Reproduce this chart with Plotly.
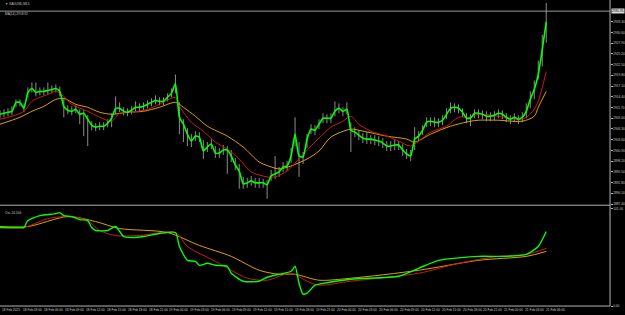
import plotly.graph_objects as go

# ---------------- data ----------------
CLOSE = [
    2910.00, 2910.25, 2910.50, 2910.75, 2913.00, 2913.00, 2911.50, 2915.50, 2916.50, 2915.50,
    2915.75, 2915.75, 2916.00, 2916.25, 2916.50, 2915.75, 2912.00, 2911.00, 2910.75, 2911.25,
    2910.00, 2910.25, 2908.75, 2907.25, 2906.75, 2907.00, 2907.00, 2907.75, 2909.00, 2911.50,
    2911.50, 2910.75, 2910.50, 2911.00, 2911.75, 2911.75, 2912.00, 2912.50, 2913.00, 2913.50,
    2913.25, 2913.25, 2914.25, 2915.25, 2917.75, 2909.25, 2907.50, 2905.00, 2903.25, 2904.50,
    2904.25, 2900.75, 2901.75, 2902.50, 2900.25, 2900.25, 2901.00, 2901.00, 2899.50, 2897.25,
    2895.75, 2892.50, 2892.75, 2893.25, 2892.75, 2892.75, 2892.75, 2892.25, 2894.50, 2895.00,
    2895.50, 2896.75, 2897.00, 2899.50, 2905.00, 2899.50, 2899.25, 2903.75, 2906.25, 2906.00,
    2907.50, 2909.00, 2909.00, 2909.00, 2910.75, 2911.50, 2910.75, 2911.25, 2906.00, 2905.50,
    2904.75, 2904.00, 2903.75, 2903.75, 2903.50, 2903.25, 2902.75, 2902.00, 2902.00, 2902.25,
    2902.25, 2901.00, 2900.00, 2899.50, 2903.75, 2904.50, 2906.00, 2908.00, 2908.25, 2908.00,
    2908.00, 2908.50, 2910.00, 2911.50, 2911.75, 2911.50, 2910.50, 2909.00, 2909.00, 2910.25,
    2910.25, 2910.00, 2909.50, 2909.50, 2909.75, 2910.25, 2910.00, 2909.25, 2908.75, 2909.25,
    2908.75, 2909.25, 2910.75, 2913.75, 2916.25, 2920.00, 2926.25, 2933.25,
]
HIGH = [
    2911.00, 2911.25, 2911.50, 2912.00, 2913.75, 2913.75, 2912.75, 2916.75, 2918.00, 2918.00,
    2916.75, 2916.75, 2918.00, 2917.25, 2917.50, 2917.00, 2914.00, 2912.25, 2912.00, 2912.25,
    2911.25, 2911.00, 2909.75, 2908.25, 2907.75, 2908.00, 2908.00, 2908.75, 2910.25, 2914.50,
    2913.00, 2911.75, 2911.50, 2912.00, 2913.25, 2912.75, 2913.00, 2913.50, 2914.00, 2914.75,
    2914.25, 2914.25, 2915.25, 2916.50, 2920.00, 2913.00, 2908.75, 2906.50, 2905.00, 2905.75,
    2905.50, 2903.50, 2903.00, 2903.75, 2902.00, 2901.50, 2902.25, 2902.00, 2901.00, 2899.00,
    2897.50, 2894.25, 2894.00, 2894.50, 2894.00, 2894.00, 2893.75, 2893.50, 2896.00, 2899.50,
    2896.75, 2898.00, 2898.25, 2901.50, 2909.25, 2903.00, 2900.50, 2905.00, 2907.50, 2907.25,
    2908.75, 2910.25, 2910.00, 2910.25, 2913.25, 2912.75, 2911.75, 2913.00, 2908.00, 2906.75,
    2906.00, 2905.25, 2905.50, 2904.75, 2904.75, 2904.50, 2904.00, 2903.25, 2903.25, 2903.50,
    2903.25, 2902.50, 2901.25, 2901.00, 2906.75, 2905.75, 2907.25, 2909.25, 2909.25, 2909.25,
    2909.00, 2909.75, 2911.50, 2913.00, 2912.75, 2912.50, 2911.50, 2910.25, 2910.00, 2911.25,
    2911.25, 2911.00, 2910.75, 2910.50, 2910.75, 2911.25, 2911.00, 2910.25, 2909.75, 2910.25,
    2909.75, 2910.50, 2912.75, 2915.75, 2918.50, 2923.50, 2930.00, 2938.00,
]
LOW = [
    2909.00, 2909.25, 2909.50, 2909.75, 2911.75, 2912.00, 2910.50, 2914.25, 2915.50, 2914.50,
    2914.75, 2914.75, 2915.00, 2915.25, 2915.50, 2914.50, 2909.25, 2910.00, 2909.75, 2910.25,
    2907.50, 2904.50, 2902.00, 2906.00, 2905.75, 2906.00, 2906.00, 2906.75, 2906.75, 2910.00,
    2910.50, 2909.75, 2909.50, 2910.00, 2910.75, 2910.75, 2911.00, 2911.50, 2912.00, 2912.50,
    2912.25, 2912.25, 2913.25, 2914.25, 2915.25, 2905.00, 2903.00, 2902.00, 2901.75, 2903.25,
    2903.00, 2898.75, 2900.50, 2901.25, 2899.00, 2899.00, 2899.75, 2895.00, 2898.00, 2896.00,
    2891.25, 2891.25, 2891.50, 2892.00, 2891.50, 2891.50, 2891.50, 2888.75, 2893.25, 2893.75,
    2894.25, 2895.50, 2895.75, 2897.75, 2902.00, 2894.25, 2897.50, 2901.50, 2905.00, 2904.75,
    2906.25, 2907.75, 2907.75, 2907.75, 2909.50, 2910.25, 2909.50, 2910.00, 2900.50, 2904.25,
    2903.50, 2902.75, 2902.50, 2902.50, 2902.25, 2902.00, 2901.50, 2900.75, 2900.75, 2901.00,
    2901.00, 2899.50, 2898.75, 2898.25, 2901.00, 2903.25, 2904.75, 2906.75, 2907.00, 2906.75,
    2906.75, 2907.25, 2908.75, 2910.25, 2910.50, 2910.25, 2909.25, 2907.75, 2907.00, 2909.00,
    2909.00, 2908.75, 2908.25, 2908.25, 2908.50, 2909.00, 2908.75, 2908.00, 2907.50, 2908.00,
    2907.50, 2908.00, 2909.00, 2911.50, 2913.75, 2918.75, 2922.00, 2928.00,
]

MA_RED_BARS = [0, 3, 6, 8, 12, 14, 16, 18, 22, 25, 28, 30, 33, 37, 40, 44, 45, 48, 51, 54,
               57, 60, 63, 67, 69, 72, 75, 78, 80, 83, 86, 88, 90, 93, 97, 100, 103, 105, 108,
               112, 115, 118, 120, 125, 130, 132, 134, 135, 136, 137]
MA_RED = [2908.75, 2909.50, 2910.75, 2913.25, 2915.00, 2915.75, 2914.50, 2912.50, 2910.75, 2909.25,
          2908.25, 2910.25, 2910.50, 2911.25, 2912.50, 2914.25, 2912.00, 2908.00, 2905.75, 2903.00,
          2901.25, 2898.75, 2895.50, 2894.25, 2894.25, 2895.75, 2898.75, 2902.00, 2904.00, 2906.75,
          2908.25, 2909.50, 2907.50, 2905.75, 2904.50, 2903.25, 2902.00, 2903.25, 2905.50,
          2907.00, 2909.25, 2909.25, 2910.00, 2909.50, 2908.75, 2909.25, 2911.25, 2913.25, 2916.75, 2920.75]

MA_ORANGE_BARS = [0, 5, 8, 11, 14, 16, 19, 22, 25, 28, 32, 36, 40, 44, 46, 49, 52, 57, 61, 65,
                  68, 70, 73, 77, 80, 83, 88, 91, 97, 102, 104, 108, 113, 118, 120, 125, 131,
                  134, 135, 137]
MA_ORANGE = [2907.50, 2909.25, 2910.75, 2912.00, 2913.75, 2914.00, 2912.50, 2911.75, 2910.50, 2910.00,
             2910.50, 2910.75, 2911.75, 2913.00, 2911.75, 2909.50, 2907.00, 2904.50, 2901.75, 2898.00,
             2896.75, 2896.25, 2897.00, 2898.75, 2900.75, 2904.25, 2906.25, 2905.75, 2904.50, 2903.75,
             2903.00, 2905.00, 2907.00, 2908.25, 2908.50, 2908.50, 2908.25, 2909.50, 2911.75, 2915.75]

OSC_GREEN_BARS = [0, 5, 6, 7, 10, 14, 15, 16, 18, 20, 22, 23, 24, 27, 29, 31, 33, 36, 40, 44,
                  45, 47, 49, 50, 52, 54, 57, 58, 61, 65, 67, 70, 73, 74, 75, 76, 77, 79, 80,
                  88, 100, 105, 110, 120, 127, 132, 135, 137]
OSC_GREEN = [79, 79, 79, 86, 91, 93, 94, 91, 90, 87, 86, 79, 76, 76, 80, 70, 69, 70, 73, 74,
             60, 46, 45, 41, 43, 41, 40, 33, 25, 25, 29, 32, 35, 40, 23, 12, 13, 21, 22,
             27, 30, 38, 46, 50, 50, 52, 60, 75]

OSC_RED_BARS = [0, 6, 12, 18, 22, 25, 29, 35, 44, 47, 54, 58, 62, 67, 73, 77, 80, 88, 105, 115,
                125, 132, 137]
OSC_RED = [79, 79, 88, 90, 86, 76, 71, 71, 74, 60, 45, 36, 28, 26, 33, 25, 21, 25, 33, 43,
           50, 52, 58]

OSC_ORANGE_BARS = [0, 7, 17, 24, 30, 42, 50, 58, 65, 70, 74, 80, 88, 105, 120, 132, 137]
OSC_ORANGE = [80, 80, 90, 85, 78, 74, 61, 50, 36, 32, 32, 26, 28, 36, 46, 50, 55]

PRICE_TICKS = [2933.30, 2930.60, 2927.90, 2925.20, 2922.50, 2919.80, 2917.10, 2914.40, 2911.70,
               2909.00, 2906.30, 2903.60, 2900.90, 2898.20, 2895.50, 2892.80, 2890.10, 2887.40]
BID = 2935.95
OSC_TICKS = [98, 0]
OSC_TICK_TEXT = ["101.00", "0.00"]

TIME_LABELS = ["18 Feb 2025", "18 Feb 03:00", "18 Feb 06:00", "18 Feb 09:00", "18 Feb 12:00",
               "18 Feb 15:00", "18 Feb 18:00", "18 Feb 21:00", "19 Feb 00:00", "19 Feb 03:00",
               "19 Feb 06:00", "19 Feb 09:00", "19 Feb 12:00", "19 Feb 15:00", "19 Feb 18:00",
               "19 Feb 21:00", "20 Feb 00:00", "20 Feb 03:00", "20 Feb 06:00", "20 Feb 09:00",
               "20 Feb 12:00", "20 Feb 15:00", "20 Feb 18:00", "20 Feb 21:00", "21 Feb 00:00",
               "21 Feb 03:00", "21 Feb 06:00"]
LABEL_EVERY_BARS = 5.25

TITLE = "\u25bc XAUUSD,M15"
MA_TEXT = "MA(14) 2918.92"
OSC_TEXT = "Osc 24.504"

# ---------------- layout geometry ----------------
W, H = 625, 315
BAR_PX = 4
RIGHT_PX = 612
MAIN_BOTTOM_PX = 206
SUB_TOP_PX = 207
SUB_BOTTOM_PX = 308
FONT = "Liberation Sans"
FS = 3.2

def py(px):
    return 1 - px / H

AX_COL = "#B4B4B4"
TXT_COL = "#C8C8C8"
GREEN = "#00FF00"
RED = "#D01818"
ORANGE = "#E0A000"
GREY = "#8C8C8C"

bars = list(range(len(CLOSE)))

# grey high-low bars
gx, gy = [], []
for i, h, l in zip(bars, HIGH, LOW):
    gx += [i, i, None]
    gy += [l, h, None]

fig = go.Figure()
fig.add_trace(go.Scatter(x=gx, y=gy, mode="lines", line=dict(color=GREY, width=1),
                         hoverinfo="skip", xaxis="x", yaxis="y"))
fig.add_trace(go.Scatter(x=MA_ORANGE_BARS, y=MA_ORANGE, mode="lines",
                         line=dict(color=ORANGE, width=1, shape="spline", smoothing=0.8),
                         xaxis="x", yaxis="y"))
fig.add_trace(go.Scatter(x=MA_RED_BARS, y=MA_RED, mode="lines",
                         line=dict(color=RED, width=1, shape="spline", smoothing=0.8),
                         xaxis="x", yaxis="y"))
fig.add_trace(go.Scatter(x=bars, y=CLOSE, mode="lines",
                         line=dict(color=GREEN, width=1.6, shape="spline", smoothing=0.5),
                         xaxis="x", yaxis="y"))

fig.add_trace(go.Scatter(x=OSC_ORANGE_BARS, y=OSC_ORANGE, mode="lines",
                         line=dict(color=ORANGE, width=1, shape="spline", smoothing=0.8),
                         xaxis="x2", yaxis="y2"))
fig.add_trace(go.Scatter(x=OSC_RED_BARS, y=OSC_RED, mode="lines",
                         line=dict(color=RED, width=1, shape="spline", smoothing=0.8),
                         xaxis="x2", yaxis="y2"))
fig.add_trace(go.Scatter(x=OSC_GREEN_BARS, y=OSC_GREEN, mode="lines",
                         line=dict(color=GREEN, width=1.4, shape="spline", smoothing=0.6),
                         xaxis="x2", yaxis="y2"))

x_range = [0, RIGHT_PX / BAR_PX]
x_dom = [0, RIGHT_PX / W]
main_range = [2938.75 - MAIN_BOTTOM_PX / 4, 2938.75]

common_x = dict(range=x_range, domain=x_dom, showgrid=False, zeroline=False,
                showticklabels=False, showline=False, fixedrange=True)
tickfont = dict(family=FONT, size=FS, color=TXT_COL)
fig.update_layout(
    width=W, height=H,
    margin=dict(l=0, r=0, t=0, b=0),
    paper_bgcolor="black", plot_bgcolor="black",
    showlegend=False,
    font=dict(family=FONT, size=FS, color=TXT_COL),
    xaxis=dict(**common_x, anchor="y"),
    xaxis2=dict(**common_x, anchor="y2"),
    yaxis=dict(domain=[py(MAIN_BOTTOM_PX), 1], range=main_range, side="right", anchor="x",
               tickvals=PRICE_TICKS, tickformat=".2f", ticks="outside", ticklen=1.5,
               tickcolor=AX_COL, tickfont=tickfont,
               showgrid=False, zeroline=False, showline=False, fixedrange=True),
    yaxis2=dict(domain=[py(SUB_BOTTOM_PX), py(SUB_TOP_PX)], range=[0, 101], side="right",
                anchor="x2", tickvals=OSC_TICKS, ticktext=OSC_TICK_TEXT, ticks="outside",
                ticklen=1.5, tickcolor=AX_COL, tickfont=tickfont,
                showgrid=False, zeroline=False, showline=False, fixedrange=True),
)

line = dict(color=AX_COL, width=1)
shapes = [
    dict(type="line", xref="paper", yref="paper", x0=RIGHT_PX / W, x1=RIGHT_PX / W,
         y0=py(SUB_BOTTOM_PX), y1=1, line=line),
    dict(type="line", xref="paper", yref="paper", x0=0, x1=RIGHT_PX / W,
         y0=py(MAIN_BOTTOM_PX + 0.5), y1=py(MAIN_BOTTOM_PX + 0.5), line=line),
    dict(type="line", xref="paper", yref="paper", x0=0, x1=RIGHT_PX / W,
         y0=py(SUB_BOTTOM_PX), y1=py(SUB_BOTTOM_PX), line=line),
    dict(type="line", xref="paper", yref="y", x0=0, x1=RIGHT_PX / W, y0=BID, y1=BID,
         line=dict(color="#9A9A9A", width=1)),
]
fig.update_layout(shapes=shapes)

small = dict(family=FONT, size=FS, color=TXT_COL)
ann = [
    dict(xref="paper", yref="paper", x=3 / W, y=py(4), text=TITLE, showarrow=False,
         xanchor="left", yanchor="middle", font=small),
    dict(xref="paper", yref="paper", x=3 / W, y=py(14), text=MA_TEXT, showarrow=False,
         xanchor="left", yanchor="middle", font=small),
    dict(xref="paper", yref="paper", x=3 / W, y=py(214), text=OSC_TEXT, showarrow=False,
         xanchor="left", yanchor="middle", font=small),
    dict(xref="paper", yref="y", x=(RIGHT_PX + 1) / W, y=BID, text=f"{BID:.2f}",
         showarrow=False, xanchor="left", yanchor="middle", bgcolor="#D8D8D8",
         font=dict(family=FONT, size=FS, color="black"), borderpad=0),
]
for k, lab in enumerate(TIME_LABELS):
    ann.append(dict(xref="x2", yref="paper", x=k * LABEL_EVERY_BARS, y=py(311.5), text=lab,
                    showarrow=False, xanchor="left", yanchor="middle", font=small))
fig.update_layout(annotations=ann)

fig.write_html("out.html")
